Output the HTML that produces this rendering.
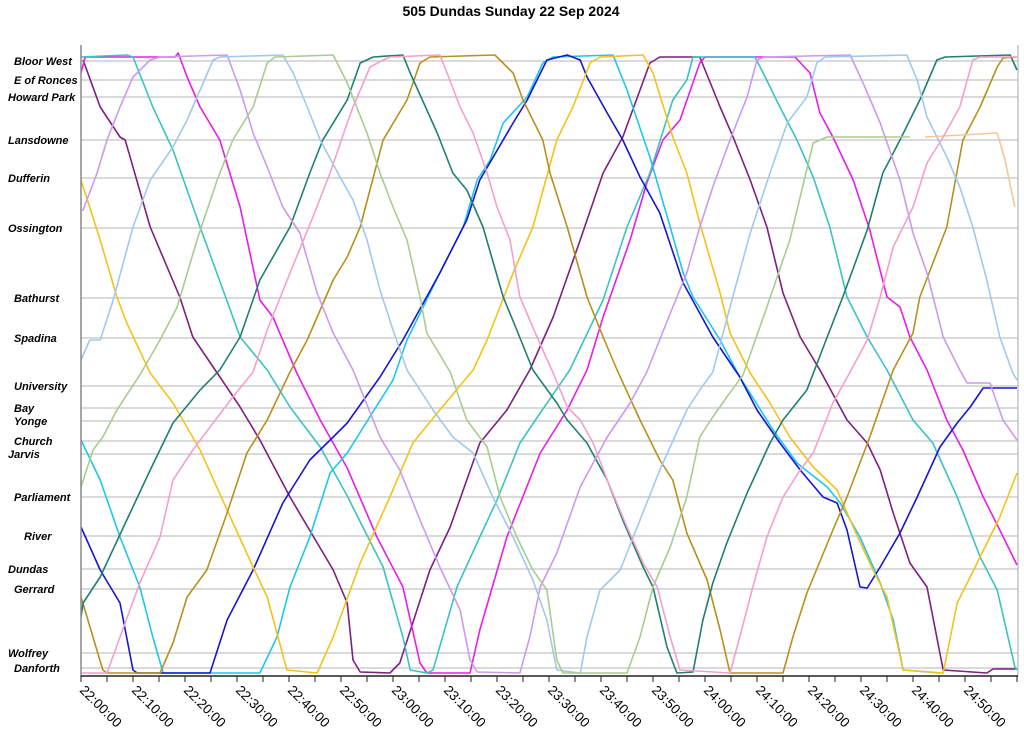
<!DOCTYPE html>
<html><head><meta charset="utf-8"><style>
html,body{margin:0;padding:0;background:#fff;}
svg{display:block;font-family:"Liberation Sans",sans-serif;}
</style></head><body>
<svg id="chart" width="1024" height="742" viewBox="0 0 1024 742" xmlns="http://www.w3.org/2000/svg">
<text x="511" y="16" text-anchor="middle" font-weight="bold" font-size="14">505 Dundas Sunday 22 Sep 2024</text>
<g id="grid"></g><g id="slabels"></g><g id="series" clip-path="url(#clip)"></g><g id="axes"></g>
<defs><clipPath id="clip"><rect x="81" y="45" width="937" height="633"/></clipPath></defs>
</svg>
<script>
const stationNames=["Bloor West","E of Ronces","Howard Park","Lansdowne","Dufferin","Ossington","Bathurst","Spadina","University","Bay","Yonge","Church","Jarvis","Parliament","River","Dundas","Gerrard","Wolfrey","Danforth"];
const stationPos=[0.04,0.23,0.40,0.83,1.21,1.71,2.41,2.81,3.29,3.51,3.64,3.84,3.97,4.40,4.79,5.12,5.32,5.96,6.11];
const labelX=[14,14,8,8,8,8,14,14,14,14,14,14,8,14,24,8,14,8,14];
const tickLabels=["22:00:00","22:10:00","22:20:00","22:30:00","22:40:00","22:50:00","23:00:00","23:10:00","23:20:00","23:30:00","23:40:00","23:50:00","24:00:00","24:10:00","24:20:00","24:30:00","24:40:00","24:50:00"];
const vPurple=[[0.4,0.03],[3.7,0.5],[7.5,0.8],[8.5,0.83],[13.3,1.7],[19,2.4],[21.5,2.8],[26.2,3.16],[30.6,3.5],[34.4,3.83],[40.2,4.4],[48.5,5.13],[51.2,5.46],[52.3,6.03],[53.7,6.15],[59.4,6.16],[61.3,6.06],[67.1,5.13],[71,4.7],[76.7,3.86],[81.9,3.53],[86.3,3.13],[90.8,2.6],[96,1.83],[100.4,1.16],[104.2,0.8],[109.4,0.06],[111.3,0],[119,0],[122.9,0.5],[125.4,0.8],[128.7,1.23],[131.9,1.7],[135,2.36],[138.3,2.8],[142.1,3.13],[147.3,3.63],[151.2,3.86],[153.7,4.13],[156.2,4.56],[159.4,5.06],[162.7,5.3],[165.8,6.13],[174.2,6.16],[175.4,6.12],[180,6.12]];
const vMagenta=[[0,0.16],[0.8,0],[18.1,0],[18.7,-0.04],[20.4,0.2],[22.9,0.5],[26.7,0.83],[30.6,1.5],[34.4,2.43],[36.9,2.6],[41.5,3.16],[46,3.63],[51.2,4.11],[56.9,4.8],[61.9,5.3],[65.2,6.06],[66.5,6.16],[74.8,6.16],[76.7,5.73],[81.9,4.8],[88.3,3.96],[93.5,3.53],[97.3,3.13],[100.4,2.6],[105.6,1.83],[108.8,1.26],[111.9,0.83],[115.2,0.63],[119,0.06],[120,0],[137.3,0],[140.2,0.16],[142.1,0.56],[144.6,0.8],[148.5,1.23],[151.7,1.73],[155,2.4],[157.5,2.5],[159.4,2.8],[162.7,3.13],[166.5,3.63],[169.6,3.93],[173.5,4.4],[176.7,4.73],[180,5.08]];
const vTurquoise=[[0,0],[8.8,-0.02],[10,0],[13.8,0.5],[17.7,0.93],[22.9,1.7],[30.6,2.8],[35.8,3.13],[40.2,3.5],[46,3.9],[51.3,4.4],[54.2,4.7],[58.1,5.1],[61.9,5.8],[63.3,6.13],[66.5,6.16],[67.7,6.13],[72.3,5.3],[76.7,4.8],[80,4.43],[84.4,3.86],[88.3,3.56],[94,3.13],[100.4,2.43],[105,1.7],[109.4,1.16],[113.8,0.43],[116.5,0.23],[117.7,0],[129.6,0],[131.2,0.16],[134.4,0.5],[137.7,0.83],[140.8,1.2],[144,1.7],[147.3,2.4],[151.2,2.8],[155,3.13],[160,3.63],[163.8,3.86],[168.5,4.4],[172.9,5],[176.2,5.33],[179.6,6.1],[180,6.13]];
const vSkyCyan=[[0,3.83],[3.7,4.23],[7.5,4.8],[11.3,5.3],[13.8,5.8],[15.8,6.16],[34.4,6.16],[37.7,5.8],[40.2,5.3],[44,4.8],[47.9,4.16],[51.2,3.96],[60,3.23],[62.7,2.83],[69,2.16],[73.5,1.7],[76.2,1.23],[78.7,1.03],[81.2,0.66],[85.8,0.4],[88.8,0.06],[90.8,0],[102.3,-0.02],[105,0.33],[109.4,1],[113.3,1.7],[115.8,2.16],[117.7,2.4],[122.9,2.83],[126.7,3.2],[133.1,3.73],[137.7,4.06],[143.5,4.3],[146,4.46],[149.8,4.8],[153.7,5.26],[156.2,5.63],[158.1,6.13],[165.2,6.16]];
const vBlue=[[0,4.7],[3.7,5.13],[7.5,5.46],[10,6.13],[10.8,6.16],[24.8,6.16],[28.1,5.63],[33.1,5.13],[38.8,4.46],[44,4.03],[48.5,3.8],[51.2,3.66],[57.5,3.2],[61.9,2.83],[69,2.16],[74.2,1.63],[76.7,1.23],[83.1,0.66],[85.8,0.43],[89.6,0.03],[93.5,-0.02],[96,0.03],[97.3,0.2],[101.2,0.56],[104.2,0.83],[107.5,1.2],[111.3,1.56],[115.8,2.26],[121.5,2.8],[126.7,3.2],[130,3.53],[134.4,3.86],[138.3,4.13],[142.7,4.4],[145.4,4.46],[147.3,4.73],[149.8,5.3],[151.2,5.31],[153.7,5.1],[157.5,4.76],[160.8,4.4],[165.2,3.9],[168.5,3.66],[171,3.5],[173.5,3.31],[180,3.31]];
const vYellow=[[0,1.23],[3.7,1.83],[6.9,2.4],[8.8,2.66],[13.3,3.16],[17.7,3.46],[22.9,3.93],[28.1,4.53],[33.1,5.1],[35.8,5.4],[39.6,6.13],[45.4,6.16],[48.5,5.8],[53.7,5.06],[59.4,4.4],[63.8,3.86],[69,3.53],[75.4,3.13],[78.1,2.83],[83.1,2.16],[86.9,1.7],[91.5,0.83],[94.6,0.5],[97.9,0.06],[99.8,0],[108.1,-0.02],[110,0.16],[113.8,0.8],[116.5,1.16],[119,1.66],[122.9,2.36],[124.8,2.76],[128.7,3.16],[132.5,3.46],[136.3,3.8],[140.8,4.1],[145.4,4.33],[148.5,4.7],[152.3,5.13],[155,5.4],[158.1,6.13],[165.8,6.16],[168.5,5.46],[172.9,5],[176.7,4.6],[180,4.16]];
const vGold=[[0,5.4],[2.3,5.8],[4.2,6.13],[5,6.16],[15.2,6.16],[17.7,5.86],[20.4,5.4],[24.2,5.13],[28.1,4.56],[31.9,3.96],[35.8,3.63],[40.2,3.15],[43.5,2.83],[48.5,2.23],[51.2,2],[53.7,1.7],[58.1,0.83],[62.7,0.43],[65.2,0.06],[67.1,0],[79.6,-0.02],[83.1,0.16],[85,0.43],[88.8,0.83],[90.2,1.16],[93.5,1.7],[97.3,2.4],[100.4,2.8],[103.1,3.13],[107.5,3.63],[111.3,4.03],[113.8,4.23],[116.5,4.76],[120.4,5.23],[122.9,5.73],[124.8,6.16],[135,6.16],[136.9,5.8],[139.6,5.36],[144.6,4.73],[147.3,4.4],[151.7,3.8],[156.2,3.13],[160,2.76],[161.3,2.4],[166.5,1.7],[169.6,0.83],[172.9,0.5],[176.2,0.1],[177.3,0.01],[180,0]];
const vTeal=[[0,5.6],[0.4,5.46],[3.7,5.2],[8.8,4.63],[13.3,4.13],[17.7,3.66],[22.9,3.33],[26.7,3.13],[30.6,2.8],[34.4,2.23],[40.2,1.7],[44,1.16],[46.5,0.83],[51.2,0.43],[53.7,0.06],[56.2,0],[61.9,-0.02],[63.3,0.16],[68.5,0.76],[71.5,1.16],[74.2,1.33],[77.3,1.7],[81.2,2.4],[83.8,2.73],[86.9,3.13],[91.5,3.46],[93.5,3.63],[97.3,3.86],[101.2,4.23],[104.2,4.63],[108.1,5.1],[110,5.3],[112.7,5.9],[114.6,6.16],[117.7,6.15],[119.6,5.63],[121.5,5.26],[124.2,4.86],[128.1,4.36],[132.5,3.86],[135,3.63],[139.6,3.33],[143.5,2.8],[146.5,2.4],[151.2,1.73],[154.2,1.16],[157.5,0.83],[161.3,0.43],[164.6,0.03],[166.2,0],[178.7,-0.02],[180,0.13]];
const vLavender=[[0,1.53],[0.4,1.53],[3.1,1.16],[5,0.83],[7.5,0.5],[10,0.2],[13.3,0.03],[15.2,0],[28.1,-0.02],[30.6,0.33],[33.1,0.76],[35.8,1.1],[38.8,1.5],[42.1,1.76],[45.4,2.36],[48.5,2.76],[52.3,3.13],[57.5,3.8],[61.3,4.13],[65.2,4.63],[69,5.1],[72.9,5.53],[74.8,6.03],[76.2,6.15],[84.4,6.16],[86.3,5.8],[88.3,5.3],[91.5,4.96],[96,4.3],[101.2,3.8],[105.6,3.46],[108.8,3.15],[113.8,2.5],[116.5,2.16],[119,1.7],[121.5,1.3],[124.8,0.83],[128.1,0.4],[130,0.03],[131.5,0],[147.9,-0.02],[150.4,0.26],[153.7,0.66],[157.5,1.23],[160,1.76],[162.7,2.16],[165.8,2.8],[169,3.13],[170.4,3.26],[174.8,3.26],[177.3,3.63],[180,3.83]];
const vLightBlue=[[0,3.03],[1.7,2.83],[3.7,2.83],[6.2,2.43],[10,1.7],[13.3,1.23],[17.7,0.9],[20.4,0.63],[22.9,0.33],[25.4,0.03],[26.7,0],[38.8,-0.02],[40.8,0.16],[43.5,0.5],[46,0.83],[49.8,1.2],[52.3,1.43],[55,1.83],[57.5,2.33],[60,2.73],[62.7,3.13],[67.7,3.53],[71.5,3.8],[75.4,3.96],[79.2,4.4],[83.1,4.8],[86.9,5.23],[89.6,5.63],[91.5,6.13],[96,6.16],[97.3,5.8],[99.8,5.33],[103.7,5.13],[107.5,4.63],[111.3,4.13],[116.5,3.53],[119,3.33],[121.5,3.15],[124.8,2.5],[128.7,1.76],[132.5,1.16],[135.8,0.66],[139.6,0.4],[141.5,0.06],[143.1,0],[158.8,-0.02],[160.8,0.23],[162.7,0.6],[166.5,1],[169,1.3],[171.5,1.7],[174.2,2.23],[176.7,2.8],[179.2,3.16],[180,3.23]];
const vLightGreen=[[0,4.3],[2.3,3.93],[4.2,3.8],[6.9,3.53],[11.3,3.18],[15.2,2.83],[18.5,2.5],[22.3,1.83],[26.2,1.23],[29.2,0.83],[33.1,0.5],[35.8,0.06],[37.3,0],[48.5,-0.02],[51.2,0.26],[55,0.76],[57.5,1.16],[60,1.5],[62.7,1.83],[65.2,2.4],[66.5,2.76],[71,3.15],[74.2,3.63],[78.1,3.9],[80.6,4.4],[83.8,4.8],[86.9,5.13],[89.6,5.33],[91.5,6.03],[92.7,6.16],[105,6.16],[107.5,5.8],[110,5.3],[113.3,4.9],[116.5,4.4],[119,3.8],[121.5,3.6],[124.2,3.4],[127.3,3.18],[131.9,2.5],[136.3,1.83],[140.8,0.86],[143.5,0.8],[159.4,0.8]];
const vOrange=[[162.3,0.8],[176.2,0.76],[177.7,1.03],[179.6,1.5]];
const vPink=[[0,6.16],[5,6.16],[7.5,5.8],[11.3,5.26],[15.2,4.8],[17.7,4.23],[21.5,3.93],[25.4,3.66],[29.2,3.4],[33.1,3.15],[35.8,2.73],[40.2,2.16],[44.6,1.6],[47.9,1.16],[51.2,0.66],[52.3,0.5],[55.6,0.1],[58.1,0.03],[59.4,0],[69,-0.02],[70.4,0.16],[72.9,0.5],[75.4,0.76],[78.1,1.16],[80,1.5],[82.5,1.83],[84.4,2.4],[87.7,2.8],[90.8,3.16],[93.5,3.5],[96,3.63],[98.5,3.86],[101.2,4.23],[105,4.7],[108.1,5.06],[110.8,5.3],[113.3,5.8],[115.2,6.13],[124.8,6.16],[126.7,5.8],[129.2,5.3],[131.9,4.8],[135,4.4],[138.3,4.13],[140.8,3.96],[144.6,3.46],[147.9,3.15],[151.2,2.83],[153.7,2.4],[156.2,1.9],[160,1.5],[162.7,1.06],[165.8,0.8],[169,0.5],[171.5,0.03],[172.9,0],[180,0]];

const NS="http://www.w3.org/2000/svg";
const X0=81,X1=1017,TMAX=180,Y0=57,YS=100;
function xs(t){return X0+t*(X1-X0)/TMAX;}
function ys(p){return Y0+p*YS;}
function mk(tag,attrs,parent){const e=document.createElementNS(NS,tag);for(const k in attrs)e.setAttribute(k,attrs[k]);parent.appendChild(e);return e;}
const grid=document.getElementById('grid'),sl=document.getElementById('slabels'),ser=document.getElementById('series'),ax=document.getElementById('axes');
stationNames.forEach((n,i)=>{
  const y=ys(stationPos[i]);
  const l=mk('line',{x1:X0,x2:1018,y1:y,y2:y,stroke:'#b4b4b4','stroke-width':1},grid);
  
  
  const t=mk('text',{x:labelX[i],y:y+4,'font-size':11,'font-weight':'bold','font-style':'italic',fill:'#000'},sl);
  t.textContent=n;
  
  
});
const series=[["purple",vPurple,"#7f1f7f"],["magenta",vMagenta,"#e81ee8"],["turquoise",vTurquoise,"#3cc2c2"],["sky-cyan",vSkyCyan,"#1ec6ee"],["blue",vBlue,"#1616d0"],["yellow",vYellow,"#f5c21a"],["gold",vGold,"#b8901e"],["teal",vTeal,"#1f7f72"],["lavender",vLavender,"#cc99ee"],["light-blue",vLightBlue,"#a2c8f0"],["light-green",vLightGreen,"#a8cc90"],["orange",vOrange,"#f2c898"],["pink",vPink,"#f4a0cc"]];
series.forEach(s=>{
  const d=s[1].map((p,i)=>(i?'L':'M')+xs(p[0]).toFixed(1)+' '+ys(p[1]).toFixed(1)).join(' ');
  const path=mk('path',{d:d,fill:'none',stroke:s[2],'stroke-width':1.6,'stroke-linejoin':'round'},ser);
  
  
});
const la=mk('line',{x1:X0,x2:X0,y1:45,y2:677,stroke:'#888','stroke-width':1.5},ax);


const ra=mk('line',{x1:1018,x2:1018,y1:45,y2:676,stroke:'#aaa','stroke-width':1},ax);


const ba=mk('line',{x1:X0,x2:1018,y1:676,y2:676,stroke:'#222','stroke-width':1.5},ax);


for(let m=0;m<=TMAX;m+=5){
  const tk=mk('line',{x1:xs(m),x2:xs(m),y1:676,y2:682,stroke:'#222','stroke-width':1},ax);
  
  
}
tickLabels.forEach((lab,i)=>{
  const x=xs(i*10)-2,y=691;
  const t=mk('text',{x:x,y:y,'font-size':13.5,fill:'#000',transform:'rotate(45 '+x+' '+y+')'},ax);
  t.textContent=lab;
  
  
});
</script>
</body></html>
